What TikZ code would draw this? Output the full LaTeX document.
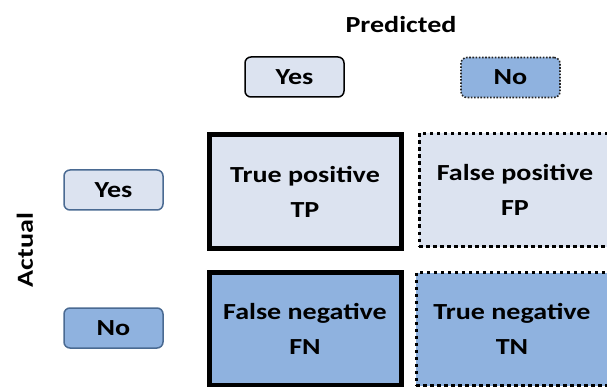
\documentclass[tikz,border=0pt]{standalone}
\usepackage{fontspec}
\setmainfont{Carlito}[FakeStretch=1.22]
\definecolor{lightcell}{HTML}{DCE3F0}
\definecolor{darkcell}{HTML}{8FB2DF}
\definecolor{edgeblue}{HTML}{4A6A92}
\begin{document}
\begin{tikzpicture}[x=1pt,y=-1pt,
  every node/.style={font=\bfseries\fontsize{23}{35}\selectfont, text=black, inner sep=0pt, align=center},
  tag/.style={rounded corners=6pt, minimum width=99pt, minimum height=40pt, line width=1.5pt},
  cell/.style={minimum width=192pt, minimum height=113pt},
  solidcell/.style={cell, draw=black, line width=5pt},
  dotcell/.style={cell, draw=black, line width=3pt, dash pattern=on 3.5pt off 3.5pt},
  lightfill/.style={fill=lightcell},
  darkfill/.style={fill=darkcell}]
\useasboundingbox (0,0) rectangle (607,387);

% axis titles
\node (pred) at (401,25) {Predicted};
\node[rotate=90] (act) at (25,250) {Actual};

% predicted classes
\node[tag, draw=black, lightfill] (pyes) at (294.5,77) {Yes};
\node[tag, draw=black!85, darkfill, line width=1.6pt, dash pattern=on 1.6pt off 1.6pt] (pno) at (510.5,77.5) {No};

% actual classes
\node[tag, draw=edgeblue, lightfill] (ayes) at (113.5,190) {Yes};
\node[tag, draw=edgeblue, darkfill] (ano) at (113.5,328) {No};

% confusion matrix cells
\node[solidcell, lightfill] (tp) at (305,191.5) {True positive\\TP};
\node[dotcell, lightfill] (fp) at (515,190) {False positive\\FP};
\node[solidcell, darkfill] (fn) at (305,329) {False negative\\FN};
\node[dotcell, darkfill] (tn) at (512,329) {True negative\\TN};
\end{tikzpicture}
\end{document}
